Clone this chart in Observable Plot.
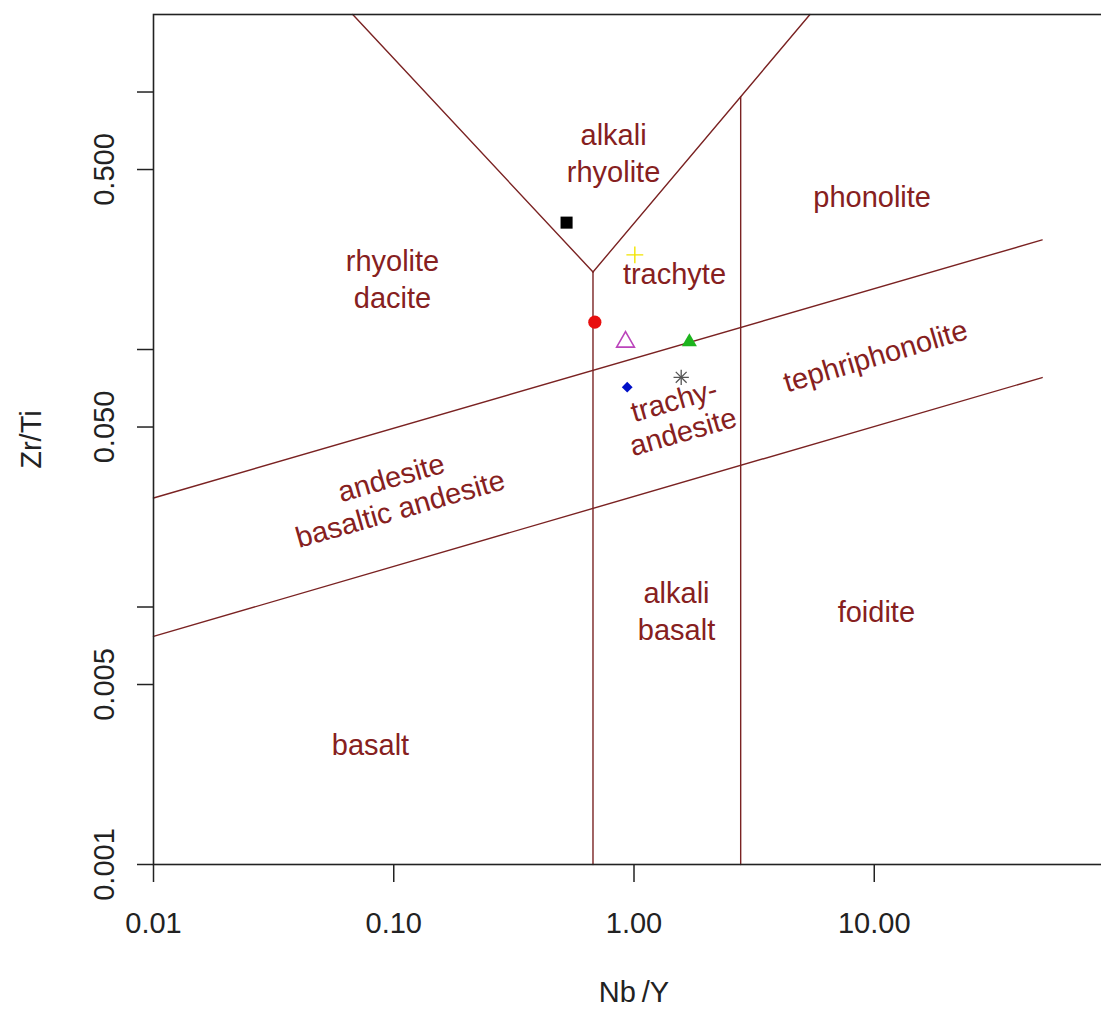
<!DOCTYPE html>
<html>
<head>
<meta charset="utf-8">
<script src="https://cdn.jsdelivr.net/npm/d3@7"></script>
<script src="https://cdn.jsdelivr.net/npm/@observablehq/plot@0.6"></script>
<style>
  html, body { margin: 0; padding: 0; background: #ffffff; overflow: hidden; }
  #chart { width: 1114px; }
  #chart svg { display: block; max-width: none !important; width: 1114px !important; height: 1012px !important; }
</style>
</head>
<body>
<div id="chart"></div>
<script>
// ---- Axis ticks ----
const xTicks = [0.01, 0.1, 1, 10];
const xTickLabels = [0.01, 0.1, 1, 10];
const yTicks = [0.001, 0.005, 0.01, 0.05, 0.1, 0.5, 1];
const yTickLabels = [0.001, 0.005, 0.05, 0.5];
const xTitle = "Nb\u2009/Y";
const yTitle = "Zr/Ti";

// ---- Field boundaries (Nb/Y, Zr/Ti), grouped by segment id ----
const boundaryId   = [1, 1, 2, 2, 3, 3, 4, 4, 5, 5, 6, 6];
const boundaryNbY  = [0.675, 0.675, 0.675, 0.0675, 0.675, 5.4, 2.78, 2.78, 0.01, 50, 0.01, 50];
const boundaryZrTi = [0.001, 0.2, 0.2, 2, 0.2, 2, 0.001, 0.959, 0.0265, 0.2665, 0.00769, 0.0778];

// ---- Field names ----
const fieldName = ["alkali\nrhyolite", "phonolite", "rhyolite\ndacite", "trachyte",
  "tephriphonolite", "trachy-\nandesite", "andesite\nbasaltic andesite",
  "alkali\nbasalt", "foidite", "basalt"];
const fieldNbY  = [0.822, 9.80, 0.0988, 1.474, 10.1, 1.53, 0.1017, 1.503, 10.2, 0.080];
const fieldZrTi = [0.585, 0.396, 0.190, 0.199, 0.0948, 0.0554, 0.0278, 0.00978, 0.0097, 0.00295];
const fieldAngle = [0, 0, 0, 0, -16.5, -16, -16, 0, 0, 0];

// ---- Samples ----
const sampleNbY    = [0.524, 1.008, 0.687, 0.922, 1.70, 0.937, 1.572];
const sampleZrTi   = [0.311, 0.233, 0.1277, 0.107, 0.107, 0.0714, 0.078];
const sampleSymbol = ["square", "plus", "circle", "triangle-open", "triangle", "diamond", "asterisk"];
const sampleColor  = ["#000000", "#f2e400", "#e81010", "#bb44bb", "#1db41d", "#0010c8", "#555555"];

const lineColor = "#7a2222";
const fieldColor = "#862020";
const font = "Arial, 'Liberation Sans', sans-serif";

const bIdx = boundaryId.map((_, i) => i);
const fIdx = fieldName.map((_, i) => i);
const flatFields = fIdx.filter(i => fieldAngle[i] === 0);
const tiltFields = fIdx.filter(i => fieldAngle[i] !== 0);

// symbol styling (kept separate from data)
function sampleMarks(i) {
  const base = {x: () => sampleNbY[i], y: () => sampleZrTi[i]};
  const c = sampleColor[i];
  switch (sampleSymbol[i]) {
    case "square":
      return [Plot.dot([i], {...base, symbol: "square", r: 6.8, fill: c, stroke: "none"})];
    case "plus":
      return [Plot.dot([i], {...base, symbol: "plus", r: 5.5, fill: "none", stroke: c, strokeWidth: 1.4})];
    case "circle":
      return [Plot.dot([i], {...base, symbol: "circle", r: 6.6, fill: c, stroke: "none"})];
    case "triangle-open":
      return [Plot.dot([i], {...base, symbol: "triangle", r: 6.6, fill: "none", stroke: c, strokeWidth: 1.6})];
    case "triangle":
      return [Plot.dot([i], {...base, symbol: "triangle", r: 5.6, fill: c, stroke: "none"})];
    case "diamond":
      return [Plot.dot([i], {...base, symbol: "square", rotate: 45, r: 4.3, fill: c, stroke: "none"})];
    case "asterisk":
      return [
        Plot.dot([i], {...base, symbol: "plus", r: 5.0, fill: "none", stroke: c, strokeWidth: 1.3}),
        Plot.dot([i], {...base, symbol: "times", r: 5.0, fill: "none", stroke: c, strokeWidth: 1.3})
      ];
  }
  return [];
}

const chart = Plot.plot({
  width: 1114,
  height: 1012,
  marginLeft: 153,
  marginRight: 0,
  marginTop: 14,
  marginBottom: 148,
  style: {fontFamily: font, fontSize: "29px", background: "#ffffff", color: "#222222", maxWidth: "none"},
  x: {type: "log", domain: [0.01, 100], axis: null},
  y: {type: "log", domain: [0.001, 2], axis: null},
  marks: [
    // boundaries
    Plot.line(bIdx, {x: i => boundaryNbY[i], y: i => boundaryZrTi[i], z: i => boundaryId[i],
      stroke: lineColor, strokeWidth: 1.4, curve: "linear"}),
    // field names
    Plot.text(flatFields, {x: i => fieldNbY[i], y: i => fieldZrTi[i], text: i => fieldName[i],
      fill: fieldColor, fontSize: 29, lineHeight: 1.28, fontFamily: font}),
    Plot.text(tiltFields, {x: i => fieldNbY[i], y: i => fieldZrTi[i], text: i => fieldName[i],
      rotate: i => fieldAngle[i], fill: fieldColor, fontSize: 29, lineHeight: 1.12, fontFamily: font}),
    // samples
    ...sampleNbY.flatMap((_, i) => sampleMarks(i)),
    // frame & ticks
    Plot.frame({stroke: "#222222", strokeWidth: 1.6}),
    Plot.axisX(xTicks, {tickSize: 18, tickFormat: () => "", label: null, stroke: "#222222", strokeWidth: 1.5}),
    Plot.axisY(yTicks, {tickSize: 16, tickFormat: () => "", label: null, stroke: "#222222", strokeWidth: 1.5}),
    // tick labels
    Plot.text(xTickLabels, {x: d => d, text: d => d3.format(".2f")(d), frameAnchor: "bottom", dy: 59,
      textAnchor: "middle", lineAnchor: "middle", fontSize: 29, fill: "#222222", fontFamily: font}),
    Plot.text(yTickLabels, {y: d => d, text: d => d3.format(".3f")(d), frameAnchor: "left", dx: -49,
      textAnchor: "middle", lineAnchor: "middle", rotate: -90, fontSize: 29, fill: "#222222", fontFamily: font}),
    // axis titles
    Plot.text([xTitle], {text: d => d, frameAnchor: "bottom", dy: 128, textAnchor: "middle", lineAnchor: "middle",
      fontSize: 29, fill: "#222222", fontFamily: font}),
    Plot.text([yTitle], {text: d => d, frameAnchor: "left", dx: -122, rotate: -90, textAnchor: "middle", lineAnchor: "middle",
      fontSize: 29, fill: "#222222", fontFamily: font})
  ]
});
document.getElementById("chart").appendChild(chart);
</script>
</body>
</html>
